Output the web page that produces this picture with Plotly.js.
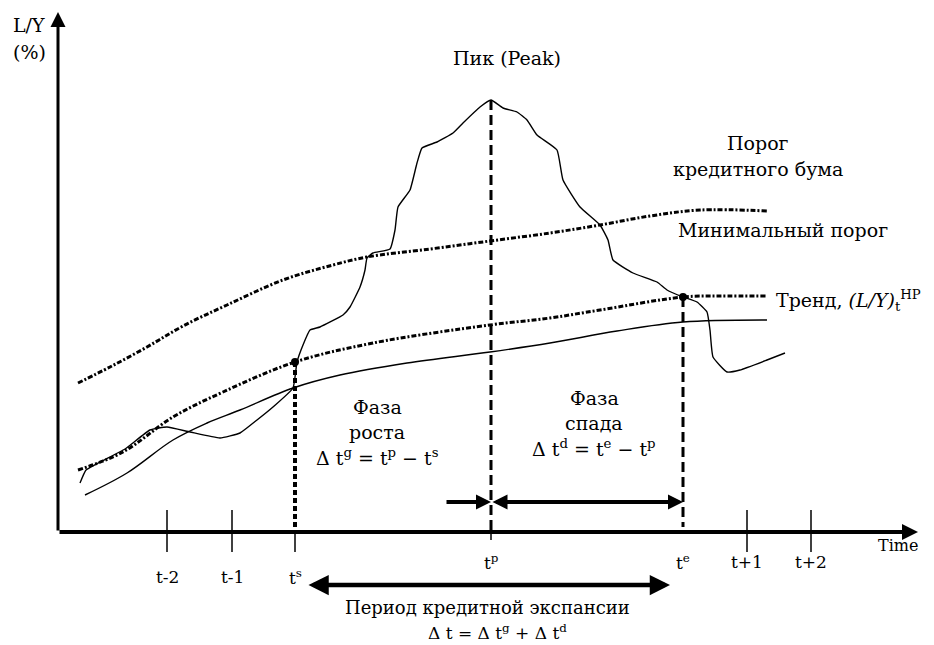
<!DOCTYPE html>
<html>
<head>
<meta charset="utf-8">
<script src="https://cdn.plot.ly/plotly-3.0.1.min.js"></script>
<style>html,body{margin:0;padding:0;background:#fff}#chart{width:934px;height:645px}</style>
</head>
<body>
<div id="chart"></div>
<script>
// ---- data (arbitrary schematic units: time along x, L/Y % along y) ----
const boomX  = [2.0, 5.2, 8.9, 12.5, 16.9, 22.5, 27.5, 30.9, 37.2, 43.2, 49.2, 54.2, 59.2, 64.2, 70.9];
const boomY  = [14.9, 16.5, 18.5, 20.6, 22.7, 25.2, 26.7, 27.5, 28.3, 29.1, 29.9, 30.7, 31.6, 32.2, 32.1];

const trendX = [2.0, 6.5, 11.5, 16.5, 23.7, 31.5, 43.2, 49.2, 54.2, 62.5, 66.2, 70.9];
const trendY = [6.2, 8.0, 11.5, 14.0, 17.0, 18.9, 20.7, 21.4, 22.2, 23.5, 23.6, 23.6];

const longX  = [2.7, 6.9, 11.5, 14.9, 18.2, 23.5, 28.2, 34.9, 43.2, 49.2, 55.9, 62.5, 70.9];
const longY  = [3.7, 5.9, 9.2, 10.9, 12.2, 14.4, 15.7, 16.9, 18.0, 18.9, 20.1, 21.0, 21.2];

const creditX = [2.2, 2.8, 4.2, 6.7, 9.2, 10.9, 13.2, 16.2, 18.2, 19.9, 21.5, 23.5, 23.9, 24.5, 25.2, 26.2,
                 28.5, 29.2, 30.2, 30.7, 30.9, 31.5, 33.2, 33.7, 34.0, 35.2, 35.9, 36.4, 37.9, 39.5, 40.5,
                 42.2, 43.3, 44.5, 45.9, 46.9, 47.9, 49.9, 50.5, 52.2, 54.2, 55.0, 55.5, 57.5, 59.9, 60.9,
                 62.5, 63.9, 64.9, 65.2, 65.5, 66.9, 68.2, 70.9, 72.7];
const creditY = [4.9, 6.2, 7.0, 8.3, 10.2, 10.5, 10.0, 9.4, 9.9, 11.2, 12.5, 14.4, 17.0, 18.7, 20.2, 20.5,
                 21.7, 22.5, 24.5, 26.2, 27.4, 27.9, 28.3, 30.2, 32.5, 34.2, 36.9, 38.4, 39.0, 39.9, 40.9,
                 42.5, 43.2, 42.4, 42.0, 41.2, 39.7, 38.2, 35.2, 32.5, 30.7, 29.2, 27.2, 25.9, 25.0, 24.2,
                 23.5, 23.0, 22.0, 20.2, 17.5, 16.0, 16.2, 17.2, 17.9];

const tickPos  = [10.9, 17.4, 23.7, 43.3, 62.5, 68.9, 75.3];
const tickText = ["t-2", "t-1", "t<sup>s</sup>", "t<sup>p</sup>", "t<sup>e</sup>", "t+1", "t+2"];

const eventNames = ["start", "peak", "end"];
const eventX = [23.7, 43.3, 62.5];      // t^s, t^p, t^e
const eventY = [17.0, 43.2, 23.5];      // level of the curve at each event

// ---- drawing ----
const FONT = {family: "DejaVu Serif", size: 19, color: "#000"};
const SMALL = {family: "DejaVu Serif", size: 17, color: "#000"};
const dotDash = "5px,2px,2px,2px";

const traces = [];
traces.push({x: boomX, y: boomY, mode: "lines", line: {color: "#000", width: 3, dash: dotDash, shape: "spline"}, hoverinfo: "skip"});
traces.push({x: trendX, y: trendY, mode: "lines", line: {color: "#000", width: 3, dash: dotDash, shape: "spline"}, hoverinfo: "skip"});
traces.push({x: longX, y: longY, mode: "lines", line: {color: "#000", width: 1.4, shape: "spline"}, hoverinfo: "skip"});
traces.push({x: creditX, y: creditY, mode: "lines", line: {color: "#000", width: 1.4, shape: "spline", smoothing: 0.4}, hoverinfo: "skip"});

// vertical event lines
const evStyles = [
  {width: 4, dash: "5px,3px"},
  {width: 3, dash: "10px,5px"},
  {width: 3, dash: "10px,5px"}
];
eventX.forEach((ex, i) => {
  traces.push({x: [ex, ex], y: [eventY[i], i === 2 ? 0.5 : 0], mode: "lines",
    line: Object.assign({color: "#000"}, evStyles[i]), hoverinfo: "skip"});
});
// markers where trend meets start / end
traces.push({x: [eventX[0], eventX[2]], y: [eventY[0], eventY[2]], mode: "markers",
  marker: {color: "#000", size: 8}, hoverinfo: "skip"});

// tick marks
const tkx = [], tky = [];
tickPos.forEach((p, i) => {
  const isEvent = eventX.indexOf(p) >= 0;
  if (i === 4) return;
  tkx.push(p, p, null);
  tky.push(isEvent ? (i === 3 ? -0.8 : -2.0) : -2.0, isEvent ? 0 : 2.2, null);
});
traces.push({x: tkx, y: tky, mode: "lines", line: {color: "#000", width: 1.5}, hoverinfo: "skip"});

const ann = [];
function arrow(x0, y0, x1, y1, w, size, both) {
  const a = {x: x1, y: y1, ax: x0, ay: y0, xref: "x", yref: "y", axref: "x", ayref: "y",
    text: "", showarrow: true, arrowhead: 2, arrowsize: size, arrowwidth: w, arrowcolor: "#000",
    standoff: 0, startstandoff: 0};
  if (both) { a.arrowside = "end+start"; a.startarrowhead = 2; a.startarrowsize = size; }
  return a;
}
function txt(x, y, t, opts) {
  return Object.assign({x: x, y: y, xref: "x", yref: "y", text: t, showarrow: false,
    font: FONT, xanchor: "center", yanchor: "middle", borderpad: 0}, opts || {});
}
// axes
ann.push(arrow(0, 0, 0, 52.0, 3, 1.0, false));
ann.push(arrow(0, 0, 86.0, 0, 4, 0.8, false));
// phase arrows
ann.push(arrow(38.7, 3.0, eventX[1], 3.0, 4, 0.75, false));
ann.push(arrow(eventX[1], 3.0, eventX[2], 3.0, 4, 0.75, true));
ann.push(arrow(24.9, -5.3, 61.2, -5.3, 4.5, 0.9, true));

// tick labels
tickPos.forEach((p, i) => {
  const low = i < 3;
  ann.push(txt(p, low ? -4.5 : -3.0, tickText[i], {font: SMALL}));
});

ann.push(txt(-4.6, 50.7, "L/Y", {xanchor: "left"}));
ann.push(txt(-4.6, 48.0, "(%)", {xanchor: "left"}));
ann.push(txt(44.9, 47.4, "Пик (Peak)"));
ann.push(txt(70.0, 38.9, "Порог"));
ann.push(txt(70.0, 36.3, "кредитного бума"));
ann.push(txt(72.5, 30.2, "Минимальный порог"));
ann.push(txt(71.7, 23.2, "Тренд, <i>(L/Y)</i><sub>t</sub><sup>HP</sup>", {xanchor: "left"}));
ann.push(txt(31.9, 12.5, "Фаза"));
ann.push(txt(31.9, 10.0, "роста"));
ann.push(txt(31.9, 7.5, "Δ t<sup>g</sup> = t<sup>p</sup> − t<sup>s</sup>"));
ann.push(txt(53.6, 13.4, "Фаза"));
ann.push(txt(53.6, 10.9, "спада"));
ann.push(txt(53.6, 8.4, "Δ t<sup>d</sup> = t<sup>e</sup> − t<sup>p</sup>"));
ann.push(txt(42.9, -7.5, "Период кредитной экспансии", {font: {family: "DejaVu Serif", size: 18, color: "#000"}}));
ann.push(txt(43.9, -10.0, "Δ t = Δ t<sup>g</sup> + Δ t<sup>d</sup>", {font: SMALL}));
ann.push(txt(84.0, -1.3, "Time", {font: {family: "DejaVu Serif", size: 16, color: "#000"}}));

const layout = {
  width: 934, height: 645,
  margin: {l: 0, r: 0, t: 0, b: 0, pad: 0},
  paper_bgcolor: "#fff", plot_bgcolor: "#fff",
  showlegend: false,
  font: FONT,
  xaxis: {range: [-5.8, 87.6], showgrid: false, zeroline: false, showline: false, showticklabels: false, ticks: "", fixedrange: true},
  yaxis: {range: [-11.3, 53.2], showgrid: false, zeroline: false, showline: false, showticklabels: false, ticks: "", fixedrange: true},
  annotations: ann
};
Plotly.newPlot("chart", traces, layout, {displayModeBar: false, staticPlot: true});
</script>
</body>
</html>
